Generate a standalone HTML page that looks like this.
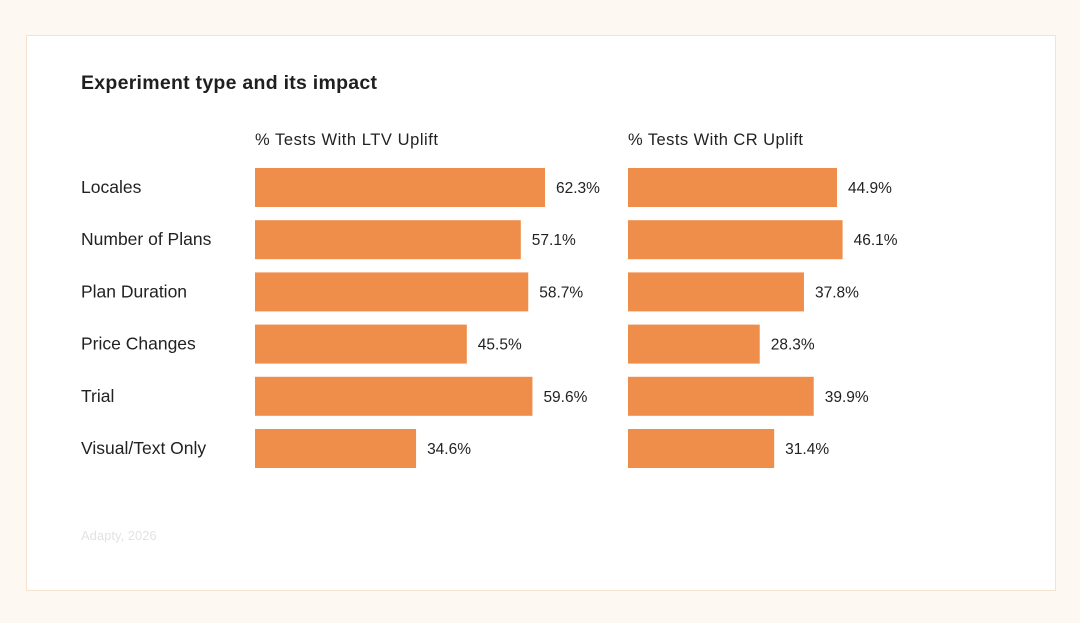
<!DOCTYPE html>
<html><head><meta charset="utf-8"><style>
html,body{margin:0;padding:0;background:#fdf8f2;width:1080px;height:623px;overflow:hidden;font-family:"Liberation Sans",sans-serif;}
#card{position:absolute;left:26px;top:35px;width:1028px;height:554px;background:#fff;border:1px solid #f3e3cf;}
</style></head><body>
<div id="card"></div>
<svg id="chart" width="1080" height="623" style="position:absolute;left:0;top:0">
<text x="81" y="89" font-size="19.5" font-weight="bold" fill="#1f1f1f" textLength="296">Experiment type and its impact</text>
<text x="255" y="145" font-size="16.5" fill="#222" textLength="183">% Tests With LTV Uplift</text>
<text x="628" y="145" font-size="16.5" fill="#222" textLength="175">% Tests With CR Uplift</text>
<text x="81" y="540" font-size="13" fill="#e3e3e3">Adapty, 2026</text>
<g id="bars"></g>
</svg>
<script>
const categories=["Locales","Number of Plans","Plan Duration","Price Changes","Trial","Visual/Text Only"];
const ltvValues=[62.3,57.1,58.7,45.5,59.6,34.6];
const crValues=[44.9,46.1,37.8,28.3,39.9,31.4];
const NS="http://www.w3.org/2000/svg";
const g=document.getElementById('bars');
const scale=v=>v*4.655;
const rowY=i=>168+i*52.2;
function mk(tag,attrs,text){const e=document.createElementNS(NS,tag);for(const k in attrs)e.setAttribute(k,attrs[k]);if(text!==undefined)e.textContent=text;g.appendChild(e);return e;}
categories.forEach((c,i)=>{
  const y=rowY(i);
  const l=mk('text',{x:81,y:y+25,'font-size':17.5,fill:'#222'},c);
  
  
  [[255,ltvValues[i],'ltv'],[628,crValues[i],'cr']].forEach(([x0,v,s])=>{
    const r=mk('rect',{x:x0,y:y,width:scale(v),height:39,fill:'#ef8e4b'});
    
    
    const t=mk('text',{x:x0+scale(v)+11,y:y+25,'font-size':15.5,fill:'#222'},v.toFixed(1)+'%');
    
    
  });
});
</script>
</body></html>
